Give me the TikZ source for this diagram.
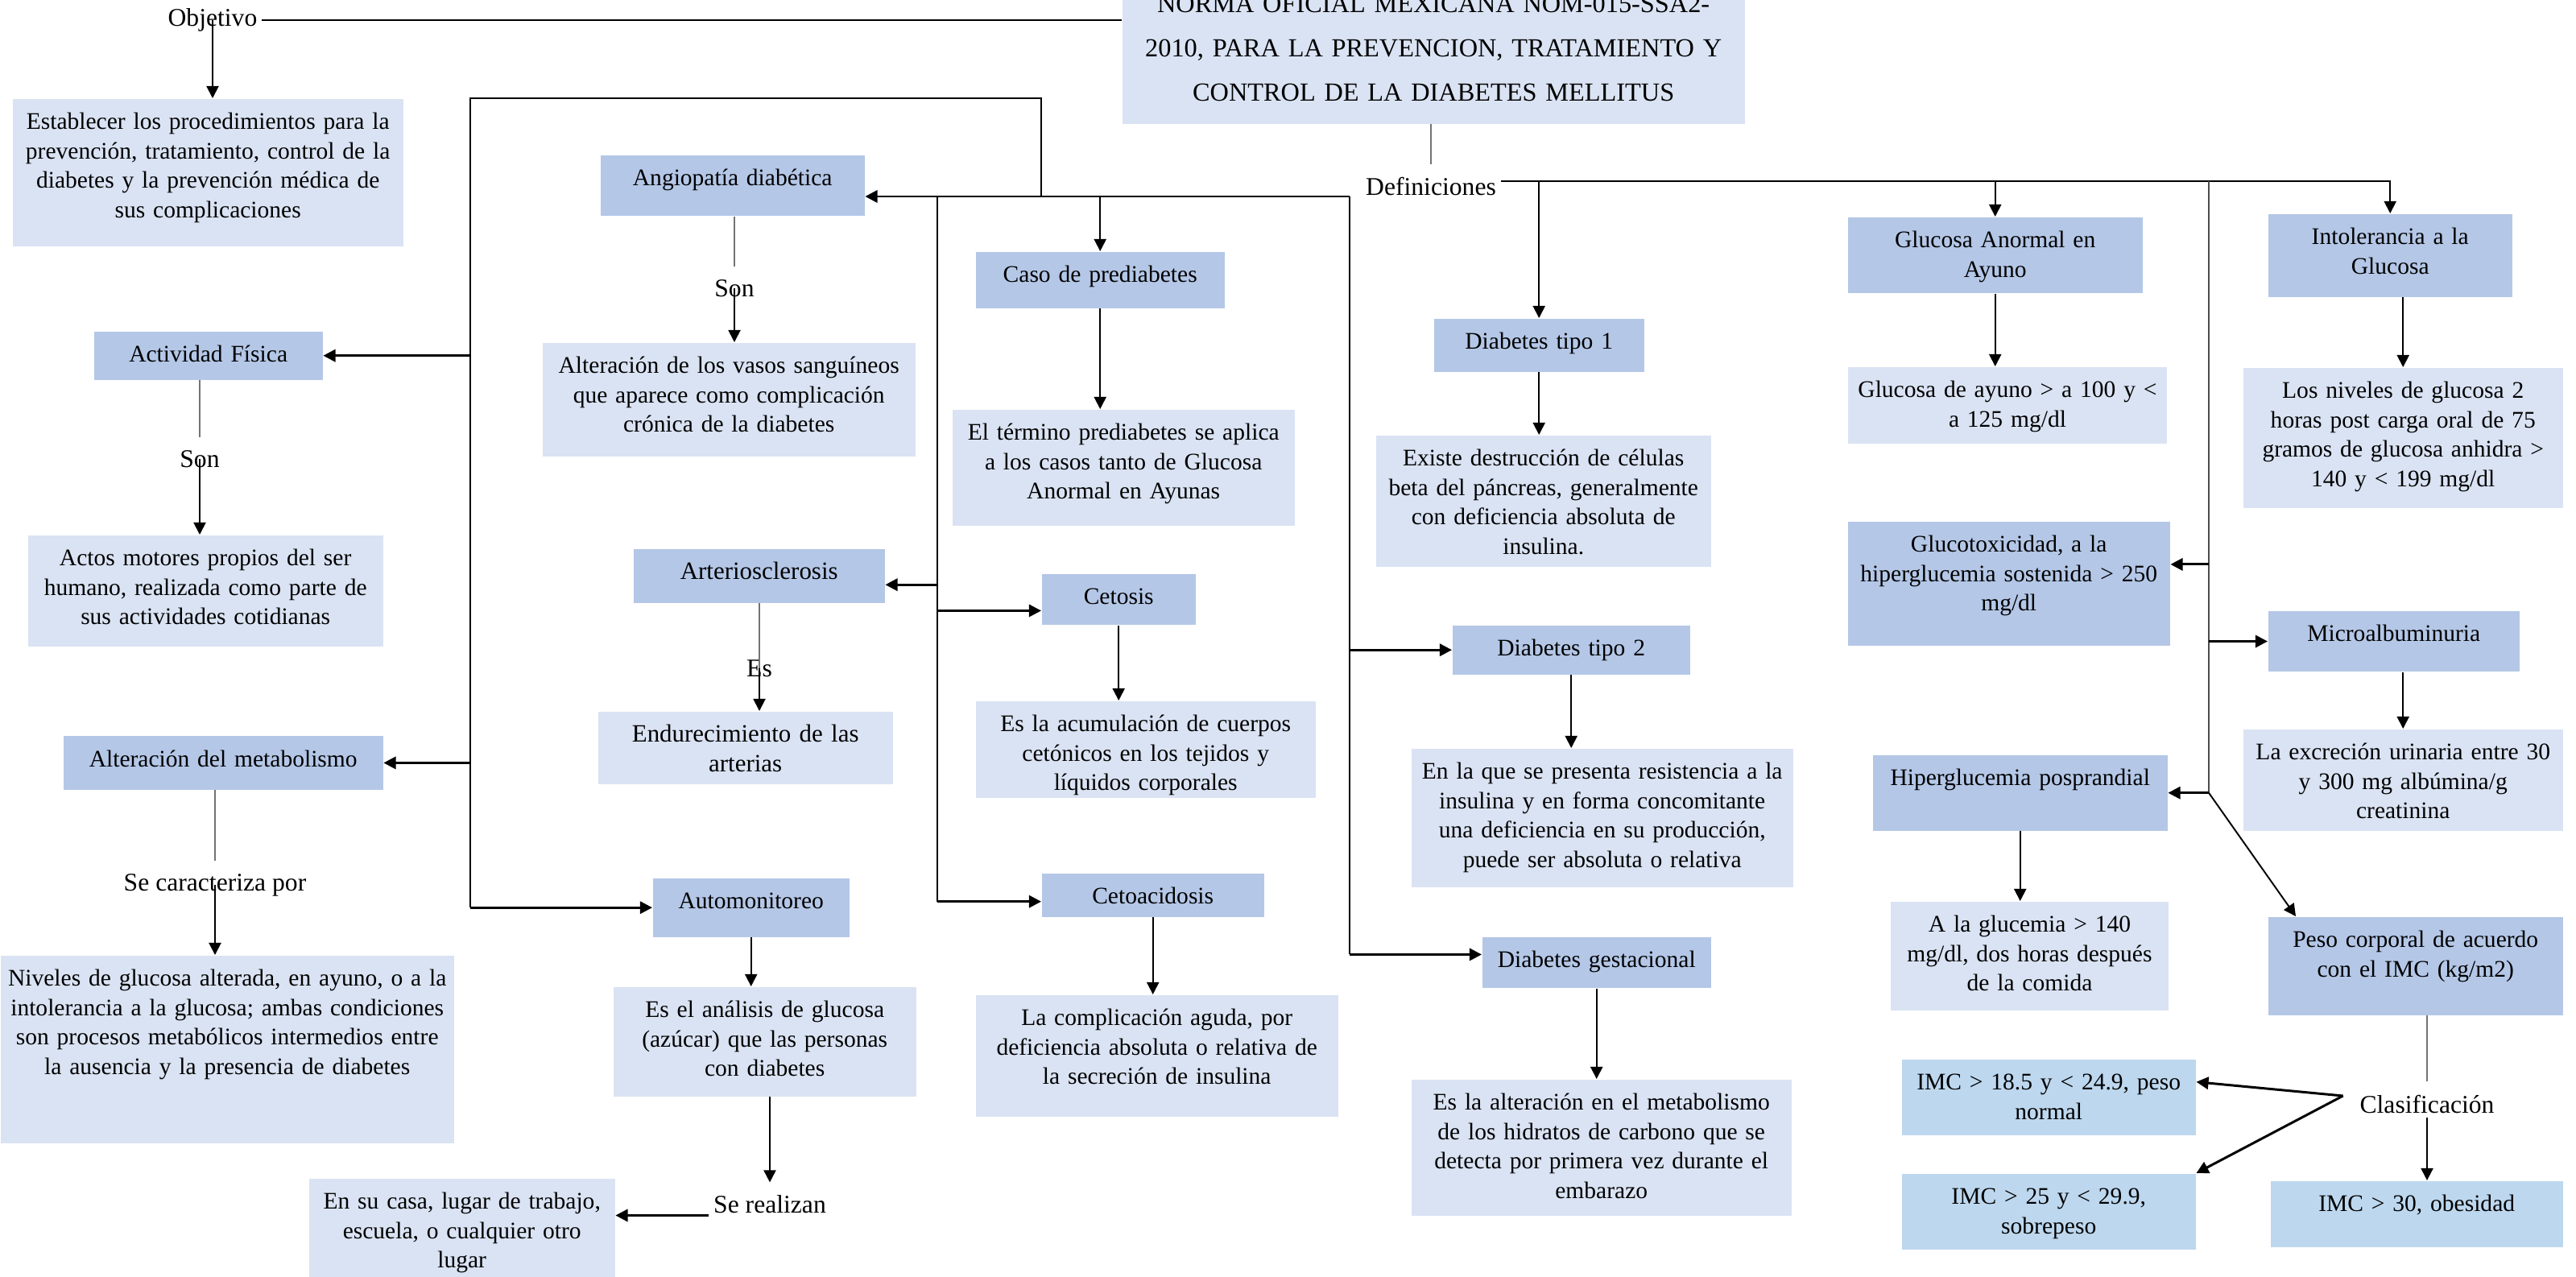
\documentclass[tikz,border=0pt]{standalone}
\usepackage{fontspec}
\setmainfont{Liberation Serif}
\usetikzlibrary{arrows.meta,positioning}
\definecolor{boxdark}{HTML}{B4C7E7}
\definecolor{boxlight}{HTML}{DAE3F3}
\definecolor{boximc}{HTML}{BDD7EE}

\begin{document}
\begin{tikzpicture}[
  box/.style 2 args={anchor=north west, inner xsep=0.5pt, inner ysep=0pt,
    text width=#1cm-1pt, align=center, text height=0.38cm,
    text depth=#2cm-0.38cm, font=\fontsize{8.4}{10.4}\selectfont},
  dark/.style={fill=boxdark},
  light/.style={fill=boxlight},
  imc/.style={fill=boximc},
  bigtxt/.style={font=\fontsize{8.8}{10.4}\selectfont},
  ttl/.style={font=\fontsize{9.2}{15.6}\selectfont, text height=0.448cm,
    text depth=1.83cm-0.448cm},
  lbl/.style={inner sep=1.5pt, font=\fontsize{9}{11}\selectfont},
  arrow/.style={-{Triangle[length=4.3pt,width=4.3pt]}, line width=0.55pt},
  tarrow/.style={arrow, line width=0.85pt},
  wire/.style={line width=0.45pt},
  gline/.style={line width=0.4pt, black!55, shorten >=3pt}
]
\useasboundingbox (0,0) rectangle (31.99,-15.85);

\node[box={7.73}{1.83}, light, ttl] (title) at (13.93,0.30) {%
  NORMA OFICIAL MEXICANA NOM-015-SSA2-\\
  2010, PARA LA PREVENCION, TRATAMIENTO Y\\
  CONTROL DE LA DIABETES MELLITUS};
\node[lbl] (obj) at (2.64,-0.25) {Objetivo};
\node[lbl] (def) at (17.77,-2.32) {Definiciones};

% Left column
\node[box={4.85}{1.83}, light] (objbox) at (0.15,-1.22) {%
  Establecer los procedimientos para la\\
  prevención, tratamiento, control de la\\
  diabetes y la prevención médica de\\
  sus complicaciones};
\node[box={2.84}{0.60}, dark] (actfis) at (1.16,-4.11) {Actividad Física};
\node[lbl] (son1) at (2.48,-5.70) {Son};
\node[box={4.41}{1.38}, light] (actos) at (0.34,-6.64) {%
  Actos motores propios del ser\\
  humano, realizada como parte de\\
  sus actividades cotidianas};
\node[box={3.97}{0.665}, dark] (altmet) at (0.78,-9.135) {Alteración del metabolismo};
\node[lbl] (carac) at (2.67,-10.99) {Se caracteriza por};
\node[box={5.63}{2.33}, light] (niveles) at (0,-11.86) {%
  Niveles de glucosa alterada, en ayuno, o a la\\
  intolerancia a la glucosa; ambas condiciones\\
  son procesos metabólicos intermedios entre\\
  la ausencia y la presencia de diabetes};

\node[box={3.28}{0.755}, dark] (angio) at (7.45,-1.92) {Angiopatía diabética};
\node[lbl] (son2) at (9.12,-3.58) {Son};
\node[box={4.63}{1.415}, light] (vasos) at (6.73,-4.25) {%
  Alteración de los vasos sanguíneos\\
  que aparece como complicación\\
  crónica de la diabetes};
\node[box={3.12}{0.67}, dark, bigtxt] (arterio) at (7.86,-6.81) {Arteriosclerosis};
\node[lbl] (es) at (9.43,-8.30) {Es};
\node[box={3.66}{0.905}, light, bigtxt] (endure) at (7.42,-8.83) {%
  Endurecimiento de las\\ arterias};
\node[box={2.44}{0.73}, dark] (auto) at (8.10,-10.90) {Automonitoreo};
\node[box={3.76}{1.36}, light] (analisis) at (7.61,-12.25) {%
  Es el análisis de glucosa\\
  (azúcar) que las personas\\
  con diabetes};
\node[lbl] (realiza) at (9.56,-14.955) {Se realizan};
\node[box={3.80}{1.37}, light] (casa) at (3.83,-14.63) {%
  En su casa, lugar de trabajo,\\
  escuela, o cualquier otro\\
  lugar};

% Middle column
\node[box={3.09}{0.70}, dark] (caso) at (12.11,-3.12) {Caso de prediabetes};
\node[box={4.25}{1.445}, light] (termino) at (11.82,-5.08) {%
  El término prediabetes se aplica\\
  a los casos tanto de Glucosa\\
  Anormal en Ayunas};
\node[box={1.91}{0.635}, dark] (cetosis) at (12.93,-7.12) {Cetosis};
\node[box={4.22}{1.20}, light] (acum) at (12.11,-8.70) {%
  Es la acumulación de cuerpos\\
  cetónicos en los tejidos y\\
  líquidos corporales};
\node[box={2.76}{0.54}, dark] (cetoac) at (12.93,-10.84) {Cetoacidosis};
\node[box={4.50}{1.515}, light] (compl) at (12.11,-12.35) {%
  La complicación aguda, por\\
  deficiencia absoluta o relativa de\\
  la secreción de insulina};

\node[box={2.61}{0.66}, dark] (d1) at (17.80,-3.95) {Diabetes tipo 1};
\node[box={4.16}{1.635}, light] (existe) at (17.08,-5.40) {%
  Existe destrucción de células\\
  beta del páncreas, generalmente\\
  con deficiencia absoluta de\\
  insulina.};
\node[box={2.95}{0.61}, dark] (d2) at (18.03,-7.76) {Diabetes tipo 2};
\node[box={4.74}{1.72}, light] (enla) at (17.52,-9.29) {%
  En la que se presenta resistencia a la\\
  insulina y en forma concomitante\\
  una deficiencia en su producción,\\
  puede ser absoluta o relativa};
\node[box={2.84}{0.635}, dark] (dg) at (18.40,-11.63) {Diabetes gestacional};
\node[box={4.72}{1.69}, light] (esalt) at (17.52,-13.40) {%
  Es la alteración en el metabolismo\\
  de los hidratos de carbono que se\\
  detecta por primera vez durante el\\
  embarazo};

% Right columns
\node[box={3.66}{0.945}, dark] (gaa) at (22.94,-2.69) {Glucosa Anormal en\\ Ayuno};
\node[box={3.965}{0.95}, light] (gayuno) at (22.94,-4.55) {%
  Glucosa de ayuno > a 100 y <\\ a 125 mg/dl};
\node[box={4.00}{1.545}, dark] (gtox) at (22.94,-6.47) {%
  Glucotoxicidad, a la\\
  hiperglucemia sostenida > 250\\
  mg/dl};
\node[box={3.66}{0.94}, dark] (hiper) at (23.25,-9.37) {Hiperglucemia posprandial};
\node[box={3.455}{1.355}, light] (aglu) at (23.47,-11.19) {%
  A la glucemia > 140\\
  mg/dl, dos horas después\\
  de la comida};
\node[box={3.65}{0.94}, imc] (imc1) at (23.61,-13.15) {IMC > 18.5 y < 24.9, peso\\ normal};
\node[box={3.65}{0.945}, imc] (imc2) at (23.61,-14.57) {IMC > 25 y < 29.9,\\ sobrepeso};

\node[box={3.03}{1.03}, dark] (intol) at (28.16,-2.65) {Intolerancia a la\\ Glucosa};
\node[box={3.97}{1.74}, light] (carga) at (27.85,-4.56) {%
  Los niveles de glucosa 2\\
  horas post carga oral de 75\\
  gramos de glucosa anhidra >\\
  140 y < 199 mg/dl};
\node[box={3.12}{0.757}, dark] (micro) at (28.16,-7.58) {Microalbuminuria};
\node[box={3.97}{1.26}, light] (excr) at (27.85,-9.05) {%
  La excreción urinaria entre 30\\
  y 300 mg albúmina/g\\
  creatinina};
\node[box={3.66}{1.22}, dark] (peso) at (28.16,-11.38) {%
  Peso corporal de acuerdo\\ con el IMC (kg/m2)};
\node[lbl] (clas) at (30.14,-13.71) {Clasificación};
\node[box={3.63}{0.82}, imc] (imc3) at (28.19,-14.66) {IMC > 30, obesidad};

% Junctions
\coordinate (dL) at (16.76,-2.44);
\coordinate (vC) at (11.64,-2.44);
\coordinate (fA) at (12.93,-2.44);
\coordinate (fB) at (5.84,-1.22);
\coordinate (dR) at (27.43,-2.25);
\coordinate (artin) at ([yshift=-0.11cm]arterio.east);
\coordinate (cetin) at ([yshift=-0.14cm]cetosis.west);
\coordinate (acin) at ([yshift=-0.08cm]cetoac.west);
\coordinate (dgin) at ([yshift=0.1cm]dg.west);
\coordinate (gtoxin) at ([yshift=0.24cm]gtox.east);
\coordinate (realout) at ([yshift=-0.14cm]realiza.west);
\coordinate (cj) at ([xshift=-0.15cm,yshift=0.1cm]clas.west);
\coordinate (imc1in) at ([yshift=0.19cm]imc1.east);

\draw[wire] (obj.east) -- (obj.east -| title.west);
\draw[arrow] (obj.center) -- (obj.center |- objbox.north);
\draw[gline] (def.north |- title.south) -- (def.north);

% Left trunk
\draw[tarrow] (dL) -- (dL -| angio.east);
\draw[arrow] (dL -| caso.north) -- (caso.north);
\draw[wire] (fA) |- (fB) -- (fB |- auto.west);
\draw[tarrow] (fB |- actfis.east) -- (actfis.east);
\draw[tarrow] (fB |- altmet.east) -- (altmet.east);
\draw[tarrow] (fB |- auto.west) -- (auto.west);
\draw[wire] (vC) -- (vC |- acin);
\draw[tarrow] (vC |- artin) -- (artin);
\draw[tarrow] (vC |- cetin) -- (cetin);
\draw[tarrow] (vC |- acin) -- (acin);
\draw[wire] (dL) -- (dL |- dgin);
\draw[tarrow] (dL |- d2.west) -- (d2.west);
\draw[tarrow] (dL |- dgin) -- (dgin);

% Right trunk
\draw[arrow] (def.east |- dR) -| (intol.north);
\draw[arrow] (dR -| d1.north) -- (d1.north);
\draw[arrow] (dR -| gaa.north) -- (gaa.north);
\draw[wire, black!70] (dR) -- (dR |- hiper.east);
\draw[tarrow] (dR |- gtoxin) -- (gtoxin);
\draw[tarrow] (dR |- micro.west) -- (micro.west);
\draw[tarrow] (dR |- hiper.east) -- (hiper.east);
\draw[arrow] (dR |- hiper.east) -- ([xshift=0.35cm]peso.north west);

% Box to box
\draw[gline] (son1 |- actfis.south) -- (son1.north);
\draw[arrow] (son1.center) -- (son1 |- actos.north);
\draw[gline] (carac |- altmet.south) -- (carac.north);
\draw[arrow] (carac.center) -- (carac |- niveles.north);
\draw[gline] (son2 |- angio.south) -- (son2.north);
\draw[arrow] (son2.center) -- (son2 |- vasos.north);
\draw[gline, shorten >=0pt] (es |- arterio.south) -- (es.center);
\draw[arrow] (es.center) -- (es |- endure.north);
\draw[arrow] (auto.south) -- (auto.south |- analisis.north);
\draw[arrow, shorten >=1mm] (realiza |- analisis.south) -- (realiza.north);
\draw[tarrow] (realout) -- (realout -| casa.east);
\draw[arrow] (caso.south) -- (caso.south |- termino.north);
\draw[arrow] (cetosis.south) -- (cetosis.south |- acum.north);
\draw[arrow] (cetoac.south) -- (cetoac.south |- compl.north);
\draw[arrow] (d1.south) -- (d1.south |- existe.north);
\draw[arrow] (d2.south) -- (d2.south |- enla.north);
\draw[arrow] (dg.south) -- (dg.south |- esalt.north);
\draw[arrow] (gaa.south) -- (gaa.south |- gayuno.north);
\draw[arrow] (carga.north |- intol.south) -- (carga.north);
\draw[arrow] (excr.north |- micro.south) -- (excr.north);
\draw[arrow] (hiper.south) -- (hiper.south |- aglu.north);
\draw[gline] (clas |- peso.south) -- (clas.north);
\draw[arrow] (clas.south) -- (clas |- imc3.north);
\draw[tarrow] (cj) -- (imc1in);
\draw[tarrow] (cj) -- (imc2.north east);

\end{tikzpicture}
\end{document}
